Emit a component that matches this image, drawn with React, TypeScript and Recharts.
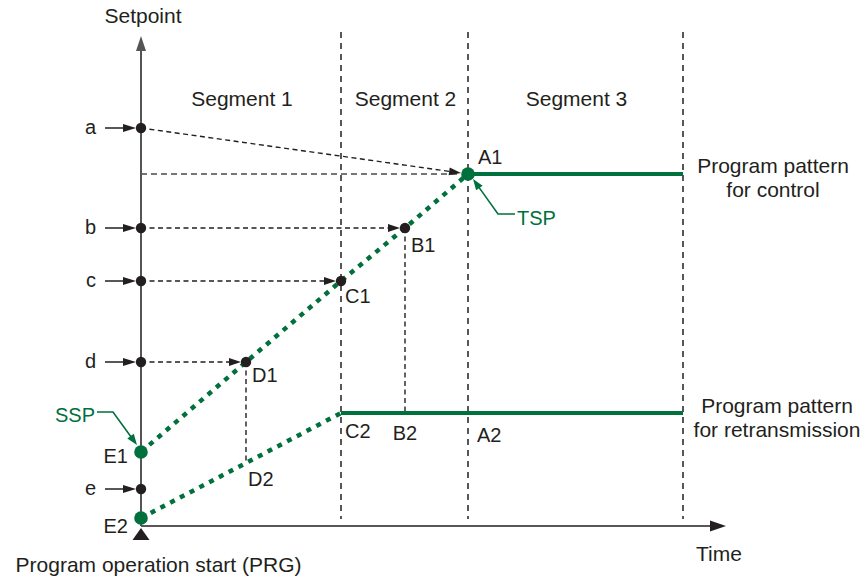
import React from 'react';
import { ComposedChart, XAxis, YAxis, Line, ReferenceLine, ReferenceDot } from 'recharts';

const W = 867;
const H = 580;
const FONT = '"Liberation Sans", Arial, Helvetica, sans-serif';
const INK = '#231f20';
const GREEN = '#00703c';
const AXIS_GRAY = '#555555';
const GUIDE_GRAY = '#4a4a4a';

// Domains (time units / setpoint units)
const X_MIN = -14.1;
const X_MAX = 72.6;
const Y_MIN = -5.4;
const Y_MAX = 52.6;

// Time axis and segments
const segmentNames = ['Segment 1', 'Segment 2', 'Segment 3'];
const segmentBounds = [0, 20, 32.7, 54.2];
const segmentLabelLevel = 42;
const timeAxisEnd = 58.5;
const setpointAxisTop = 49;
const segmentLineTop = 49.4;
const segmentLineBottom = 0.7;

// Setpoint levels on the vertical axis
const levelNames = ['a', 'b', 'c', 'd', 'e'];
const levelValues = [39.8, 29.8, 24.5, 16.4, 3.7];
const levelArrowStart = -3.6;

// Program pattern for control
const controlNames = ['E1', 'D1', 'C1', 'B1', 'A1'];
const controlTimes = [0, 10.5, 20, 26.4, 32.7];
const controlValues = [7.4, 16.4, 24.5, 29.8, 35.2];

// Program pattern for retransmission
const retransNames = ['E2', 'D2', 'C2', 'B2', 'A2'];
const retransTimes = [0, 10.5, 20, 26.4, 32.7];
const retransValues = [0.8, 6.3, 11.3, 11.3, 11.3];

const patternEnd = segmentBounds[3];

const controlRamp = controlTimes.map((t, i) => ({ t, sp: controlValues[i] }));
const controlFlat = [
  { t: controlTimes[4], sp: controlValues[4] },
  { t: patternEnd, sp: controlValues[4] },
];
const retransRamp = retransTimes.slice(0, 3).map((t, i) => ({ t, sp: retransValues[i] }));
const retransFlat = [
  { t: retransTimes[2], sp: retransValues[2] },
  { t: patternEnd, sp: retransValues[2] },
];

type ArrowOpts = {
  stroke: string;
  width: number;
  dash?: string;
  head?: [number, number];
  gap?: number;
};

const arrowShape = (o: ArrowOpts) => (p: any) => {
  const { x1, y1, x2, y2 } = p;
  const dx = x2 - x1;
  const dy = y2 - y1;
  const len = Math.hypot(dx, dy) || 1;
  const ux = dx / len;
  const uy = dy / len;
  const g = o.gap || 0;
  const tx = x2 - ux * g;
  const ty = y2 - uy * g;
  const hl = o.head ? o.head[0] : 0;
  const hw = o.head ? o.head[1] / 2 : 0;
  const bx = tx - ux * hl;
  const by = ty - uy * hl;
  const lx = o.head ? bx + ux * 1 : tx;
  const ly = o.head ? by + uy * 1 : ty;
  return (
    <g>
      <line
        x1={x1}
        y1={y1}
        x2={lx}
        y2={ly}
        stroke={o.stroke}
        strokeWidth={o.width}
        strokeDasharray={o.dash}
      />
      {o.head && (
        <polygon
          points={`${tx},${ty} ${bx - uy * hw},${by + ux * hw} ${bx + uy * hw},${by - ux * hw}`}
          fill={o.stroke}
        />
      )}
    </g>
  );
};

type TextOpts = {
  dx: number;
  dy: number;
  anchor?: 'start' | 'middle' | 'end';
  color?: string;
  size?: number;
  lh?: number;
};

const textShape = (lines: string[], o: TextOpts) => (p: any) => (
  <text
    x={p.cx + o.dx}
    y={p.cy + o.dy}
    textAnchor={o.anchor || 'start'}
    fill={o.color || INK}
    fontSize={o.size || 20}
    fontFamily={FONT}
  >
    {lines.map((l, i) => (
      <tspan key={i} x={p.cx + o.dx} dy={i === 0 ? 0 : o.lh || 24}>
        {l}
      </tspan>
    ))}
  </text>
);

const dotShape = (r: number, fill: string) => (p: any) => (
  <circle cx={p.cx} cy={p.cy} r={r} fill={fill} />
);

const leaderShape = (
  pts: [number, number][],
  text: string,
  tdx: number,
  tdy: number,
  anchor: 'start' | 'end'
) => (p: any) => {
  const abs = pts.map(([x, y]) => [p.cx + x, p.cy + y]);
  const [tx, ty] = abs[abs.length - 1];
  const [px, py] = abs[abs.length - 2];
  const len = Math.hypot(tx - px, ty - py) || 1;
  const ux = (tx - px) / len;
  const uy = (ty - py) / len;
  const hl = 11;
  const hw = 4;
  const bx = tx - ux * hl;
  const by = ty - uy * hl;
  const linePts = abs.slice(0, -1).concat([[bx + ux, by + uy]]);
  return (
    <g>
      <polyline
        points={linePts.map((q) => q.join(',')).join(' ')}
        fill="none"
        stroke={GREEN}
        strokeWidth={1.6}
      />
      <polygon
        points={`${tx},${ty} ${bx - uy * hw},${by + ux * hw} ${bx + uy * hw},${by - ux * hw}`}
        fill={GREEN}
      />
      <text
        x={p.cx + tdx}
        y={p.cy + tdy}
        textAnchor={anchor}
        fill={GREEN}
        fontSize={20}
        fontFamily={FONT}
      >
        {text}
      </text>
    </g>
  );
};

const controlLabelOffsets: [number, number, 'start' | 'middle' | 'end'][] = [
  [-13, 11, 'end'],
  [6, 20, 'start'],
  [4, 22, 'start'],
  [6, 24, 'start'],
  [10, -10, 'start'],
];
const retransLabelOffsets: [number, number, 'start' | 'middle' | 'end'][] = [
  [-13, 15, 'end'],
  [2, 23, 'start'],
  [4, 25, 'start'],
  [0, 27, 'middle'],
  [9, 29, 'start'],
];

export default function App() {
  const dashGuide = '5 3.5';
  return (
    <div style={{ position: 'absolute', left: 0, top: 0, width: W, height: H, background: '#fff' }}>
      <ComposedChart width={W} height={H} margin={{ top: 0, right: 0, bottom: 0, left: 0 }}>
        <XAxis
          type="number"
          dataKey="t"
          domain={[X_MIN, X_MAX]}
          allowDataOverflow
          hide
        />
        <YAxis type="number" domain={[Y_MIN, Y_MAX]} allowDataOverflow hide />

        {/* Segment boundaries */}
        {segmentBounds.slice(1).map((b, i) => (
          <ReferenceLine
            key={`seg-${i}`}
            segment={[
              { x: b, y: segmentLineTop },
              { x: b, y: segmentLineBottom },
            ]}
            shape={arrowShape({ stroke: INK, width: 1.5, dash: '6 5' })}
          />
        ))}

        {/* Segment names */}
        {segmentNames.map((n, i) => (
          <ReferenceDot
            key={`segn-${i}`}
            x={(segmentBounds[i] + segmentBounds[i + 1]) / 2}
            y={segmentLabelLevel}
            r={0}
            shape={textShape([n], { dx: 1, dy: 0, anchor: 'middle', size: 21 })}
          />
        ))}

        {/* Gray horizontal guide to A1 */}
        <ReferenceLine
          segment={[
            { x: 0, y: controlValues[4] },
            { x: controlTimes[4], y: controlValues[4] },
          ]}
          shape={arrowShape({ stroke: GUIDE_GRAY, width: 1.4, dash: '6 4', gap: 7 })}
        />

        {/* Level guides a->A1, b->B1, c->C1, d->D1 */}
        {[4, 3, 2, 1].map((ci, li) => (
          <ReferenceLine
            key={`guide-${li}`}
            segment={[
              { x: 0, y: levelValues[li] },
              { x: controlTimes[ci], y: controlValues[ci] },
            ]}
            shape={arrowShape({
              stroke: INK,
              width: 1.4,
              dash: dashGuide,
              head: [12, 8],
              gap: ci === 4 ? 7 : 5,
            })}
          />
        ))}

        {/* Drops D1->D2 and B1->B2 */}
        {[1, 3].map((i) => (
          <ReferenceLine
            key={`drop-${i}`}
            segment={[
              { x: controlTimes[i], y: controlValues[i] },
              { x: retransTimes[i], y: retransValues[i] },
            ]}
            shape={arrowShape({ stroke: INK, width: 1.4, dash: dashGuide })}
          />
        ))}

        {/* Axes */}
        <ReferenceLine
          segment={[
            { x: 0, y: 0 },
            { x: timeAxisEnd, y: 0 },
          ]}
          shape={arrowShape({ stroke: INK, width: 1.5, head: [16, 11] })}
        />
        <ReferenceLine
          segment={[
            { x: 0, y: 0 },
            { x: 0, y: setpointAxisTop },
          ]}
          shape={arrowShape({ stroke: AXIS_GRAY, width: 2, head: [15, 10] })}
        />

        {/* Level arrows */}
        {levelValues.map((v, i) => (
          <ReferenceLine
            key={`larr-${i}`}
            segment={[
              { x: levelArrowStart, y: v },
              { x: 0, y: v },
            ]}
            shape={arrowShape({ stroke: INK, width: 1.5, head: [13, 8], gap: 5 })}
          />
        ))}

        {/* Program patterns */}
        <Line
          data={controlRamp}
          dataKey="sp"
          stroke={GREEN}
          strokeWidth={4.5}
          strokeDasharray="5 6"
          dot={false}
          activeDot={false}
          isAnimationActive={false}
        />
        <Line
          data={controlFlat}
          dataKey="sp"
          stroke={GREEN}
          strokeWidth={4}
          dot={false}
          activeDot={false}
          isAnimationActive={false}
        />
        <Line
          data={retransRamp}
          dataKey="sp"
          stroke={GREEN}
          strokeWidth={4.5}
          strokeDasharray="5 6"
          dot={false}
          activeDot={false}
          isAnimationActive={false}
        />
        <Line
          data={retransFlat}
          dataKey="sp"
          stroke={GREEN}
          strokeWidth={4}
          dot={false}
          activeDot={false}
          isAnimationActive={false}
        />

        {/* Level dots and labels */}
        {levelValues.map((v, i) => (
          <ReferenceDot key={`ld-${i}`} x={0} y={v} r={5} shape={dotShape(5.2, INK)} />
        ))}
        {levelNames.map((n, i) => (
          <ReferenceDot
            key={`ll-${i}`}
            x={0}
            y={levelValues[i]}
            r={0}
            shape={textShape([n], { dx: -45, dy: 6, anchor: 'end' })}
          />
        ))}

        {/* Control points */}
        {controlNames.map((n, i) => (
          <ReferenceDot
            key={`cd-${i}`}
            x={controlTimes[i]}
            y={controlValues[i]}
            r={5}
            shape={dotShape(i === 0 || i === 4 ? 6.8 : 5.2, i === 0 || i === 4 ? GREEN : INK)}
          />
        ))}
        {controlNames.map((n, i) => (
          <ReferenceDot
            key={`cl-${i}`}
            x={controlTimes[i]}
            y={controlValues[i]}
            r={0}
            shape={textShape([n], {
              dx: controlLabelOffsets[i][0],
              dy: controlLabelOffsets[i][1],
              anchor: controlLabelOffsets[i][2],
            })}
          />
        ))}

        {/* Retransmission points */}
        <ReferenceDot x={retransTimes[0]} y={retransValues[0]} r={6} shape={dotShape(6.8, GREEN)} />
        {retransNames.map((n, i) => (
          <ReferenceDot
            key={`rl-${i}`}
            x={retransTimes[i]}
            y={retransValues[i]}
            r={0}
            shape={textShape([n], {
              dx: retransLabelOffsets[i][0],
              dy: retransLabelOffsets[i][1],
              anchor: retransLabelOffsets[i][2],
            })}
          />
        ))}

        {/* SSP / TSP leaders */}
        <ReferenceDot
          x={controlTimes[0]}
          y={controlValues[0]}
          r={0}
          shape={leaderShape(
            [
              [-44, -40],
              [-28, -40],
              [-4, -7],
            ],
            'SSP',
            -46,
            -30,
            'end'
          )}
        />
        <ReferenceDot
          x={controlTimes[4]}
          y={controlValues[4]}
          r={0}
          shape={leaderShape(
            [
              [47, 40],
              [30, 40],
              [5, 5],
            ],
            'TSP',
            49,
            51,
            'start'
          )}
        />

        {/* Pattern names */}
        <ReferenceDot
          x={patternEnd}
          y={controlValues[4]}
          r={0}
          shape={textShape(['Program pattern', 'for control'], {
            dx: 90,
            dy: -1,
            anchor: 'middle',
            size: 21,
            lh: 24,
          })}
        />
        <ReferenceDot
          x={patternEnd}
          y={retransValues[4]}
          r={0}
          shape={textShape(['Program pattern', 'for retransmission'], {
            dx: 94,
            dy: 0,
            anchor: 'middle',
            size: 21,
            lh: 24,
          })}
        />

        {/* Axis titles and start marker */}
        <ReferenceDot
          x={0}
          y={setpointAxisTop}
          r={0}
          shape={textShape(['Setpoint'], { dx: 2, dy: -13, anchor: 'middle', size: 21 })}
        />
        <ReferenceDot
          x={timeAxisEnd}
          y={0}
          r={0}
          shape={textShape(['Time'], { dx: -7, dy: 35, anchor: 'middle', size: 21 })}
        />
        <ReferenceDot
          x={0}
          y={0}
          r={0}
          shape={(p: any) => (
            <g>
              <polygon
                points={`${p.cx},${p.cy + 2} ${p.cx - 8.5},${p.cy + 14} ${p.cx + 8.5},${p.cy + 14}`}
                fill={INK}
              />
              <text
                x={p.cx + 17.5}
                y={p.cy + 46}
                textAnchor="middle"
                fill={INK}
                fontSize={21}
                fontFamily={FONT}
              >
                Program operation start (PRG)
              </text>
            </g>
          )}
        />
      </ComposedChart>
    </div>
  );
}
